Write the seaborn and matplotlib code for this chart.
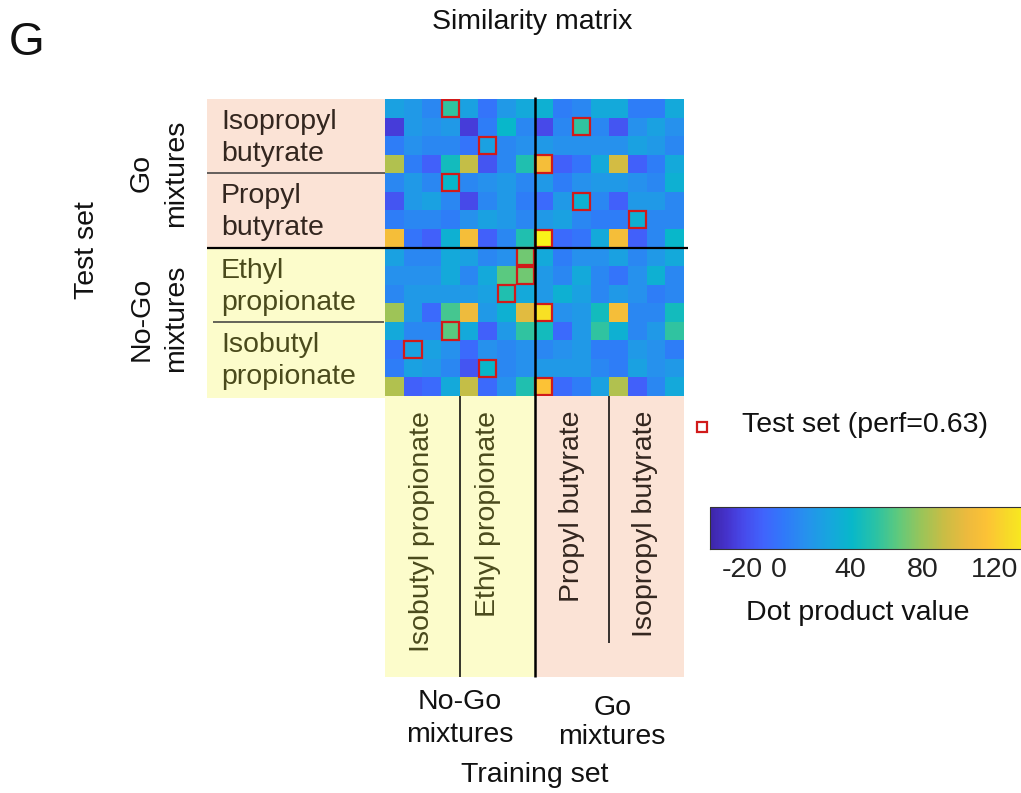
import numpy as np
import matplotlib
matplotlib.use("Agg")
import matplotlib.pyplot as plt
from matplotlib.colors import LinearSegmentedColormap
from matplotlib.patches import Rectangle
import seaborn as sns

# ---------------------------------------------------------------- data
train_groups = ["Isobutyl propionate", "Ethyl propionate", "Propyl butyrate", "Isopropyl butyrate"]
test_groups = ["Isopropyl\nbutyrate", "Propyl\nbutyrate", "Ethyl\npropionate", "Isobutyl\npropionate"]

similarity = [
    [25, 20, 10, 55, 25, 0, 20, 30, 35, 5, 10, 30, 30, 5, 5, 30],
    [-25, 20, 15, 20, -25, 5, 40, 10, -20, 10, 55, 10, -15, 15, 25, 15],
    [5, 15, 10, 10, 0, 25, 10, 15, 20, 15, 15, 15, 15, 25, 20, 10],
    [85, 5, -10, 45, 90, -15, 10, 50, 110, -10, 0, 30, 95, -10, 5, 30],
    [10, 20, 10, 40, 10, 15, 20, 10, 20, 5, 15, 20, 20, 15, 10, 35],
    [-15, 20, 25, 10, -20, 10, 20, 5, -5, 20, 35, 10, -10, 20, 20, 10],
    [5, 10, 10, 5, 15, 25, 20, 10, 20, 25, 10, 5, 5, 35, 10, 10],
    [110, 0, -10, 35, 110, -10, 10, 50, 140, -5, 0, 30, 110, -10, 10, 40],
    [25, 10, 10, 30, 25, 10, 15, 70, 30, 5, 15, 15, 25, 10, 20, 30],
    [15, 15, 15, 30, 10, 30, 65, 70, 20, 10, 30, 10, 0, 15, 35, 10],
    [10, 20, 20, 20, 20, 25, 50, 30, 20, 35, 25, 10, 20, 15, 5, 10],
    [80, 20, -5, 60, 105, 20, 35, 100, 130, 15, 20, 45, 110, 10, 10, 45],
    [30, 10, 10, 65, 30, -10, 20, 55, 45, -5, 20, 55, 35, 10, 20, 55],
    [0, 25, 25, 15, -5, 15, 10, 15, 10, 15, 20, 5, 5, 20, 15, 5],
    [5, 25, 20, 10, -15, 40, 10, 15, 20, 20, 20, 10, 5, 25, 15, 20],
    [85, -10, -5, 30, 90, -5, 15, 50, 115, -5, 5, 25, 85, -10, 10, 30],
]

# best-matching training item for each test item
test_rows = [0, 1, 2, 3, 4, 5, 6, 7, 8, 9, 10, 11, 12, 13, 14, 15]
test_cols = [3, 10, 5, 8, 3, 10, 13, 8, 7, 7, 6, 8, 3, 1, 5, 8]
perf = 0.63

cbar_ticks = [-20, 0, 20, 40, 60, 80, 100, 120, 140]
cbar_labels = ["-20", "0", "", "40", "", "80", "", "120", ""]
vmin, vmax = -38, 145

# ---------------------------------------------------------------- style
sns.set_style("white")
plt.rcParams["font.family"] = ["Liberation Sans", "DejaVu Sans"]
plt.rcParams["axes.unicode_minus"] = False

parula = LinearSegmentedColormap.from_list("parula", [
    (0.000, (0.2422, 0.1504, 0.6603)),
    (0.050, (0.2700, 0.2000, 0.8000)),
    (0.100, (0.2780, 0.2900, 0.9200)),
    (0.160, (0.2500, 0.3900, 0.9900)),
    (0.220, (0.1900, 0.4700, 0.9800)),
    (0.290, (0.1500, 0.5700, 0.9300)),
    (0.360, (0.0900, 0.6500, 0.8700)),
    (0.430, (0.0300, 0.7200, 0.7900)),
    (0.500, (0.1600, 0.7600, 0.6500)),
    (0.570, (0.3700, 0.7900, 0.4900)),
    (0.640, (0.6000, 0.7700, 0.3500)),
    (0.710, (0.7900, 0.7400, 0.2700)),
    (0.780, (0.9300, 0.7300, 0.2400)),
    (0.840, (0.9900, 0.7600, 0.2100)),
    (0.900, (0.9700, 0.8500, 0.1600)),
    (1.000, (0.9769, 0.9839, 0.0805)),
])

PEACH = "#fbe3d6"
YELLOW = "#fcfccb"
BOX_RED = "#d11a1a"
GO_TXT = "#33261f"
NOGO_TXT = "#4a4a1c"
FS = 20.5

W, H = 1021, 793
fig = plt.figure(figsize=(W / 100, H / 100), dpi=100)


def rect(x0, y0, x1, y1):
    return [x0 / W, 1 - y1 / H, (x1 - x0) / W, (y1 - y0) / H]


# heatmap geometry (pixels)
HX0, HX1, HY0, HY1 = 385, 684, 99, 396
n = len(similarity)
cw = (HX1 - HX0) / n
ch = (HY1 - HY0) / n
gw = cw * 4
gh = ch * 4

ax = fig.add_axes(rect(HX0, HY0, HX1, HY1))
cax = fig.add_axes(rect(710, 507, 1040, 549))

sns.heatmap(np.array(similarity, dtype=float), cmap=parula, vmin=vmin, vmax=vmax,
            ax=ax, cbar_ax=cax, cbar_kws={"orientation": "horizontal"},
            xticklabels=False, yticklabels=False, linewidths=0)
ax.set_xticks([])
ax.set_yticks([])
for s in ax.spines.values():
    s.set_visible(False)

for r, c in zip(test_rows, test_cols):
    ax.add_patch(Rectangle((c + 0.04, r + 0.04), 0.92, 0.92, fill=False,
                           edgecolor=BOX_RED, linewidth=1.6, zorder=4))

# colorbar
cax.set_xticks(cbar_ticks)
cax.set_xticklabels(cbar_labels, fontsize=FS, color="#222222")
cax.tick_params(axis="x", direction="in", length=4, width=0.8, pad=6,
                bottom=True, top=False, colors="#222222", labelcolor="#222222")
cax.tick_params(axis="y", left=False, right=False, labelleft=False)
cax.set_xlim(vmin, vmax)
cb = ax.collections[0].colorbar
cb.outline.set_linewidth(0.8)
cb.outline.set_edgecolor("#333333")

# ---------------------------------------------------------------- annotation layer
ov = fig.add_axes([0, 0, 1, 1], zorder=5)
ov.set_xlim(0, W)
ov.set_ylim(H, 0)
ov.axis("off")
ov.patch.set_alpha(0)

mid_y = HY0 + 2 * gh
mid_x = HX0 + 2 * gw

# background panels
ov.add_patch(Rectangle((207, HY0), HX0 - 207, mid_y - HY0, color=PEACH, lw=0, zorder=0))
ov.add_patch(Rectangle((207, mid_y), HX0 - 207, HY1 + 2 - mid_y, color=YELLOW, lw=0, zorder=0))
ov.add_patch(Rectangle((HX0, HY1), mid_x - HX0, 677 - HY1, color=YELLOW, lw=0, zorder=0))
ov.add_patch(Rectangle((mid_x, HY1), HX1 - mid_x, 677 - HY1, color=PEACH, lw=0, zorder=0))

# separators
kw = dict(solid_capstyle="butt", zorder=3)
ov.plot([207, HX0], [HY0 + gh, HY0 + gh], color="#3a3a3a", lw=1.1, **kw)
ov.plot([213, HX0 - 1], [HY0 + 3 * gh, HY0 + 3 * gh], color="#3a3a3a", lw=1.1, **kw)
ov.plot([207, 688], [mid_y, mid_y], color="black", lw=1.6, **kw)
ov.plot([mid_x, mid_x], [HY0 - 2, 677], color="black", lw=1.8, **kw)
ov.plot([HX0 + gw, HX0 + gw], [HY1, 677], color="black", lw=1.1, **kw)
ov.plot([HX0 + 3 * gw, HX0 + 3 * gw], [HY1, 643], color="black", lw=1.1, **kw)

# row labels (test set); anchored on the baseline of the second line
for i, lab in enumerate(test_groups):
    ov.text(221, 161 + i * gh, lab, fontsize=FS, ha="left", va="baseline",
            color=GO_TXT if i < 2 else NOGO_TXT, linespacing=1.3, zorder=4)

# column labels (training set)
col_x = [422, 488, 572, 645]
for j, lab in enumerate(train_groups):
    ov.text(col_x[j], 411, lab, fontsize=FS, rotation=90, ha="center", va="top",
            color=NOGO_TXT if j < 2 else GO_TXT, zorder=4)

# group captions
ov.text(159, HY0 + gh, "Go\nmixtures", fontsize=FS, rotation=90, ha="center",
        va="center", linespacing=1.4, color="#111111")
ov.text(159, HY0 + 3 * gh - 3, "No-Go\nmixtures", fontsize=FS, rotation=90, ha="center",
        va="center", linespacing=1.4, color="#111111")
ov.text(87, 250, "Test set", fontsize=FS, rotation=90, ha="center", va="center",
        color="#111111")
ov.text(HX0 + gw, 742, "No-Go\nmixtures", fontsize=FS, ha="center", va="baseline",
        linespacing=1.35, color="#111111")
ov.text(HX0 + 3 * gw + 3, 744, "Go\nmixtures", fontsize=FS, ha="center", va="baseline",
        linespacing=1.15, color="#111111")
ov.text(mid_x, 782, "Training set", fontsize=FS, ha="center", va="baseline",
        color="#111111")

# title and panel letter
ov.text(532, 29, "Similarity matrix", fontsize=FS, ha="center", va="baseline",
        color="#111111")
ov.text(9, 55, "G", fontsize=33, ha="left", va="baseline", color="#111111")

# legend entry
ov.plot([702], [427], marker="s", markersize=6.5, markerfacecolor="white",
        markeredgecolor=BOX_RED, markeredgewidth=1.6, linestyle="none")
ov.text(742, 432, f"Test set (perf={perf:.2f})", fontsize=FS, ha="left",
        va="baseline", color="#111111")

# colorbar caption
ov.text(858, 620, "Dot product value", fontsize=FS, ha="center", va="baseline",
        color="#111111")

fig.savefig("out.png", dpi=100)
